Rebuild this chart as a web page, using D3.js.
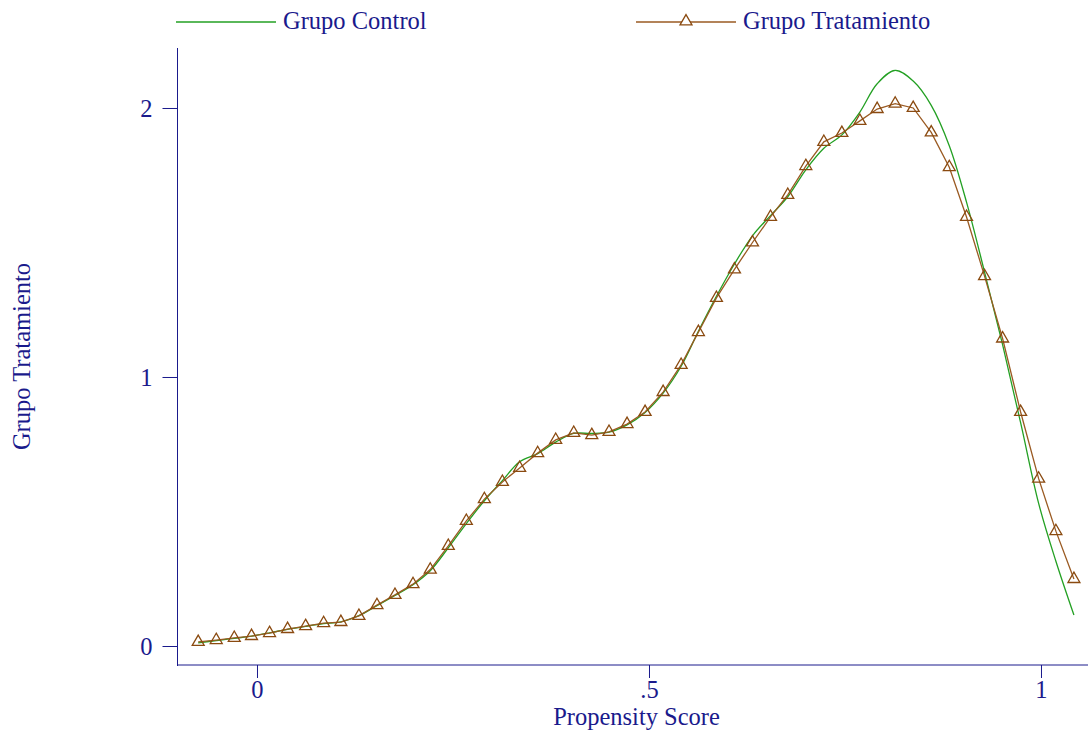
<!DOCTYPE html>
<html>
<head>
<meta charset="utf-8">
<script src="https://cdn.jsdelivr.net/npm/d3@7/dist/d3.min.js"></script>
<style>
  html, body { margin: 0; padding: 0; background: #fff; }
  svg { display: block; }
  text { font-family: "Liberation Serif", "Times New Roman", serif; fill: #1a1a8c; }
</style>
</head>
<body>
<svg id="chart" width="1088" height="735"></svg>
<script>
// Kernel density estimates of the propensity score, evaluated on a common grid
const scoreGrid = [
  -0.075, -0.052, -0.029, -0.007, 0.016, 0.039, 0.062, 0.085, 0.107, 0.130,
   0.153,  0.176,  0.199,  0.221, 0.244, 0.267, 0.290, 0.313, 0.335, 0.358,
   0.381,  0.404,  0.427,  0.449, 0.472, 0.495, 0.518, 0.541, 0.563, 0.586,
   0.609,  0.632,  0.655,  0.677, 0.700, 0.723, 0.746, 0.769, 0.791, 0.814,
   0.837,  0.860,  0.883,  0.905, 0.928, 0.951, 0.974, 0.997, 1.019, 1.042
];

const densityControl = [
  0.012, 0.020, 0.028, 0.037, 0.049, 0.062, 0.073, 0.083, 0.090, 0.113,
  0.150, 0.188, 0.228, 0.280, 0.365, 0.455, 0.540, 0.615, 0.685, 0.715,
  0.758, 0.790, 0.790, 0.795, 0.822, 0.868, 0.940, 1.040, 1.170, 1.300,
  1.420, 1.525, 1.600, 1.670, 1.770, 1.850, 1.900, 1.985, 2.090, 2.140,
  2.100, 2.010, 1.860, 1.650, 1.390, 1.120, 0.830, 0.530, 0.315, 0.115
];

const densityTreated = [
  0.015, 0.022, 0.030, 0.037, 0.048, 0.063, 0.074, 0.085, 0.089, 0.112,
  0.152, 0.190, 0.230, 0.284, 0.372, 0.465, 0.546, 0.610, 0.662, 0.717,
  0.766, 0.792, 0.784, 0.796, 0.825, 0.870, 0.944, 1.045, 1.167, 1.294,
  1.400, 1.500, 1.595, 1.677, 1.784, 1.874, 1.907, 1.952, 1.996, 2.016,
  2.000, 1.909, 1.780, 1.595, 1.375, 1.143, 0.870, 0.622, 0.427, 0.249
];

const xTicks = [0, 0.5, 1];
const xTickLabels = ["0", ".5", "1"];
const yTicks = [0, 1, 2];
const yTickLabels = ["0", "1", "2"];

const seriesNames = ["Grupo Control", "Grupo Tratamiento"];
const xTitle = "Propensity Score";
const yTitle = "Grupo Tratamiento";

const navy = "#1a1a8c";
const green = "#23a023";
const brown = "#9a5a22";
const markerBrown = "#8a4a10";
const fontSize = 24.5;

const svg = d3.select("#chart");

const plot = { left: 177, right: 1088, top: 48, bottom: 665 };

const x = d3.scaleLinear().domain([-0.10204, 1.05995]).range([plot.left, plot.right]);
const y = d3.scaleLinear().domain([-0.0706, 2.2230]).range([plot.bottom, plot.top]);

// Axes
const yAxis = d3.axisLeft(y).tickValues(yTicks)
  .tickFormat((d, i) => yTickLabels[i]).tickSize(15).tickPadding(10);
const gy = svg.append("g").attr("transform", `translate(${plot.left + 0.5},0)`).call(yAxis);
gy.select(".domain").attr("d", `M0,${plot.top}V${plot.bottom + 1}`).attr("stroke", navy);
gy.selectAll(".tick line").attr("stroke", navy);
gy.selectAll(".tick text").attr("font-size", fontSize).attr("fill", navy)
  .attr("font-family", "Liberation Serif, serif").attr("dy", "0.35em");

const xAxis = d3.axisBottom(x).tickValues(xTicks)
  .tickFormat((d, i) => xTickLabels[i]).tickSize(13).tickPadding(3);
const gx = svg.append("g").attr("transform", `translate(0,${plot.bottom})`).call(xAxis);
gx.select(".domain").attr("d", `M${plot.left},0H${plot.right}`).attr("stroke", navy);
gx.selectAll(".tick line").attr("stroke", navy);
gx.selectAll(".tick text").attr("font-size", fontSize).attr("fill", navy)
  .attr("font-family", "Liberation Serif, serif");

// Axis titles
svg.append("text")
  .attr("x", (plot.left + plot.right) / 2 + 4).attr("y", 725)
  .attr("text-anchor", "middle").attr("font-size", fontSize)
  .text(xTitle);

svg.append("text")
  .attr("transform", `translate(30,${(plot.top + plot.bottom) / 2}) rotate(-90)`)
  .attr("text-anchor", "middle").attr("font-size", fontSize)
  .text(yTitle);

// Density curves
const control = scoreGrid.map((s, i) => ({ s, d: densityControl[i] }));
const treated = scoreGrid.map((s, i) => ({ s, d: densityTreated[i] }));

const smoothLine = d3.line().x(p => x(p.s)).y(p => y(p.d)).curve(d3.curveCatmullRom.alpha(0.5));
const straightLine = d3.line().x(p => x(p.s)).y(p => y(p.d));

svg.append("path").datum(control)
  .attr("d", smoothLine).attr("fill", "none")
  .attr("stroke", green).attr("stroke-width", 1.3);

svg.append("path").datum(treated)
  .attr("d", straightLine).attr("fill", "none")
  .attr("stroke", brown).attr("stroke-width", 1.3);

const tri = d3.symbol().type(d3.symbolTriangle).size(62);
svg.append("g").selectAll("path").data(treated).join("path")
  .attr("transform", p => `translate(${x(p.s)},${y(p.d)})`)
  .attr("d", tri).attr("fill", "none")
  .attr("stroke", markerBrown).attr("stroke-width", 1.3);

// Legend
const legend = svg.append("g");
const legendItems = [
  { name: seriesNames[0], x0: 176, color: green, marker: false },
  { name: seriesNames[1], x0: 636, color: brown, marker: true }
];
const legendY = 22;
legendItems.forEach(item => {
  legend.append("line")
    .attr("x1", item.x0).attr("x2", item.x0 + 100)
    .attr("y1", legendY).attr("y2", legendY)
    .attr("stroke", item.color).attr("stroke-width", 1.3);
  if (item.marker) {
    legend.append("path")
      .attr("transform", `translate(${item.x0 + 50},${legendY - 0.5})`)
      .attr("d", tri).attr("fill", "#fff")
      .attr("stroke", markerBrown).attr("stroke-width", 1.3);
  }
  legend.append("text")
    .attr("x", item.x0 + 107).attr("y", legendY + 7)
    .attr("font-size", fontSize)
    .text(item.name);
});
</script>
</body>
</html>
